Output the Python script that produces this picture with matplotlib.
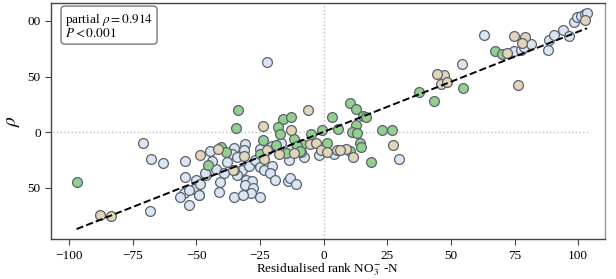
import numpy as np
import matplotlib
matplotlib.use("Agg")
import matplotlib.pyplot as plt

plt.rcParams["font.family"] = ["Liberation Serif", "DejaVu Serif"]
plt.rcParams["mathtext.fontset"] = "stix"

# residualised rank NO3-N (x) vs residualised rank of response (y), three groups
blue_x = [-70.8, -67.7, -63.1, -54.3, -54.6, -68.1, -50.1, -50.8, -55.0, -56.3,
          -52.8, -49.0, -48.7, -44.5, -35.3, -36.0, -42.1, -46.0, -39.0, -40.8,
          -41.2, -35.0, -46.5, -30.7, -31.4, -34.0, -32.0, -34.0, -29.4, -26.8,
          -24.8, -23.5, -20.2, -21.1, -18.9, -30.3, -28.1, -30.7, -27.7, -28.5,
          -31.6, -24.8, -14.0, -13.3, -11.0, -13.3, -20.2, -16.9, -13.7, -7.5,
          -1.8, 4.0, 29.7, -22.4, 54.2, 63.1, 74.7, 77.6, 78.9, 81.5,
          88.3, 88.7, 90.4, 94.0, 96.2, 98.3, 99.6, 101.2, 102.8, 103.5,
          -9.0, -25.0, -38.0, -48.8, -53.0, -44.0]
blue_y = [-9.6, -24.5, -27.3, -25.8, -40.0, -71.0, -43.0, -50.6, -55.0, -58.0,
          -65.6, -56.0, -46.7, -17.0, -14.0, -20.0, -33.0, -38.6, -37.0, -44.6,
          -53.9, -58.0, -37.0, -10.2, -15.6, -22.0, -34.0, -38.6, -30.5, -25.2,
          -31.2, -34.0, -30.5, -37.0, -42.5, -42.5, -43.8, -47.6, -49.7, -55.0,
          -56.8, -58.0, -43.8, -40.7, -46.7, -15.6, -12.6, -9.6, -25.2, -22.7,
          -20.7, -19.8, -23.7, 63.2, 61.0, 87.2, 73.0, 73.7, 76.7, 79.1,
          73.7, 82.7, 87.2, 91.6, 86.5, 99.2, 103.7, 104.2, 106.0, 107.2,
          -18.0, -15.0, -27.0, -56.6, -52.0, -26.0]

green_x = [-97.0, -40.3, -38.2, -34.3, -33.7, -45.2, -16.0, -12.9, -17.9, -17.3,
           3.4, 5.6, -5.1, -0.8, -23.7, -11.7, -8.3, -10.6, -18.5, -14.6,
           -9.3, -25.0, 1.2, 37.5, 43.2, 10.4, 12.6, 15.6, 16.8, 12.6,
           11.3, 13.1, 23.0, 27.0, 14.3, 14.8, 10.4, 18.5, 54.6, 67.3, 70.0]
green_y = [-44.6, -13.2, -18.0, 3.9, 19.8, -29.6, 12.3, 13.8, 4.8, -2.0,
           13.8, 3.3, -1.8, 1.8, -6.6, -5.7, -10.2, -12.6, -11.7, -18.6,
           -17.0, -19.2, -9.6, 36.2, 28.1, 25.8, 20.7, 14.6, 13.8, 6.9,
           0.3, -0.6, 1.8, 2.4, -9.6, -13.2, -16.8, -26.7, 40.1, 72.8, 70.7]

tan_x = [-88.0, -83.6, -48.5, -41.6, -35.3, -23.6, -6.2, -12.6, -22.2, -17.6,
         -5.5, -2.8, -1.2, 1.2, -11.7, -23.5, -31.4, -35.6, 5.4, 8.7,
         6.4, 11.7, 27.3, 47.4, 46.0, 48.4, 44.5, 74.7, 79.1, 77.9,
         72.0, 76.2, 102.5]
tan_y = [-74.6, -75.2, -20.7, -15.0, -34.0, 6.0, 19.8, 1.8, -15.6, -20.0,
         -10.2, -9.6, -15.6, -17.7, -18.6, -23.7, -21.6, -33.6, -16.2, -14.7,
         -15.6, -22.0, -11.7, 51.2, 43.0, 45.2, 52.0, 86.5, 85.6, 80.3,
         71.6, 42.2, 100.6]

# fitted line
fit_slope = 0.9
fit_intercept = 0.3
fit_xmin, fit_xmax = -97.0, 103.5

xticks = [-100, -75, -50, -25, 0, 25, 50, 75, 100]
xtick_labels = ["\u2212100", "\u221275", "\u221250", "\u221225", "0", "25", "50", "75", "100"]
yticks = [100, 50, 0, -50]
ytick_labels = ["00", "50", "0", "50"]

fig = plt.figure(figsize=(6.16, 2.79), dpi=100)
ax = fig.add_axes([0.083, 0.143, 0.899, 0.846])

ax.axvline(0, color="#bbbbbb", ls=":", lw=1, zorder=0)
ax.hlines(0, -108, 104, color="#bbbbbb", ls=":", lw=1, zorder=0)

kw = dict(s=50, edgecolors="#5a6270", linewidths=0.9, zorder=3)
ax.scatter(blue_x, blue_y, c="#dbe5f1", **kw)
ax.scatter(green_x, green_y, c="#93cf8d", **kw)
ax.scatter(tan_x, tan_y, c="#e3d5b8", **kw)

fx = np.array([fit_xmin, fit_xmax])
ax.plot(fx, fit_intercept + fit_slope * fx, color="black", ls="--", lw=1.4, zorder=4)

ax.set_xlim(-107, 110.5)
ax.set_ylim(-96, 116)
ax.set_xticks(xticks)
ax.set_xticklabels(xtick_labels)
ax.set_yticks(yticks)
ax.set_yticklabels(ytick_labels)
ax.tick_params(labelsize=9.5, direction="out", length=4, color="#444444")
for s in ax.spines.values():
    s.set_color("#444444")
    s.set_linewidth(1.0)
ax.spines["right"].set_color("#999999")

ax.set_xlabel("Residualised rank NO$_3^{-}$ -N", fontsize=9.5, labelpad=0)
ax.set_ylabel(r"$\rho$", fontsize=14, labelpad=4)

ax.text(0.025, 0.962, "partial $\\rho = 0.914$\n$P < 0.001$", transform=ax.transAxes,
        ha="left", va="top", fontsize=9.5, linespacing=0.95,
        bbox=dict(boxstyle="round,pad=0.3", fc="white", ec="#777777", lw=1))

fig.savefig("out.png", dpi=100)
